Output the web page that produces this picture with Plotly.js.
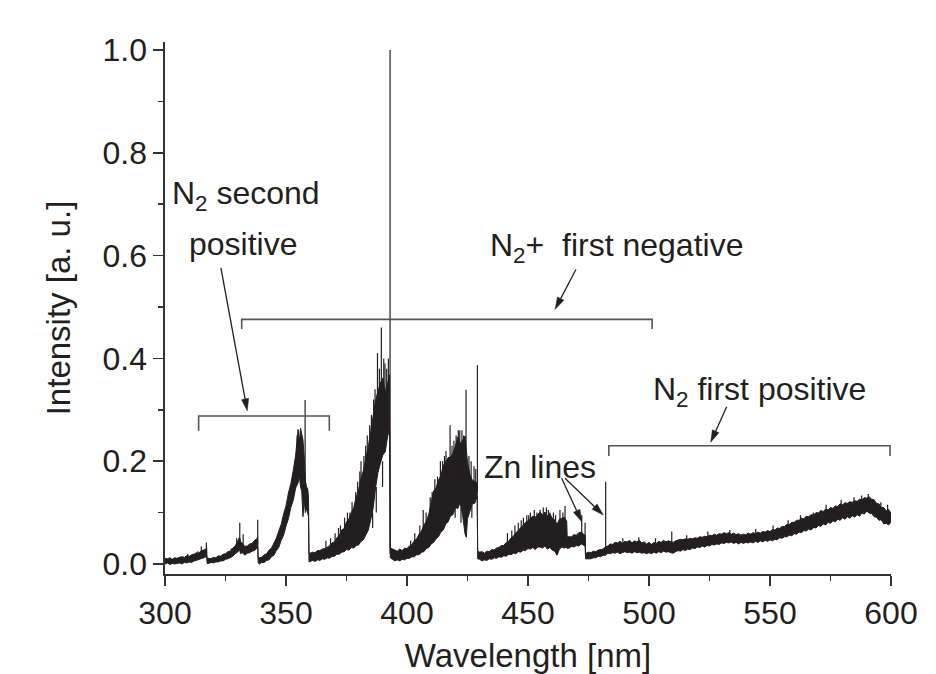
<!DOCTYPE html>
<html>
<head>
<meta charset="utf-8">
<script src="https://cdn.plot.ly/plotly-3.0.1.min.js"></script>
<style>
html,body{margin:0;padding:0;background:#fff;}
#chart{width:936px;height:674px;}
</style>
</head>
<body>
<div id="chart"></div>
<script>
// ---- spectrum: wavelength [nm], lower and upper edge of the dense noisy trace [a.u.]
const wavelength = [
 300,301,302,303,304,305,306,307,308,309,310,311,312,313,314,315,316,317,317.2,317.4,
 318,319,320,321,322,323,324,325,326,327,328,329,330,330.8,331.2,332,333,334,335,336,337,338,338.3,338.5,
 339,340,341,342,343,344,345,346,347,348,349,350,351,352,353,354,355,355.5,356,356.5,357,357.5,358,358.5,359,359.3,359.5,
 360,361,362,363,364,365,366,367,368,369,370,371,372,373,374,375,376,377,378,379,380,381,382,383,384,385,386,387,388,389,390,391,392,392.8,393.1,
 394,395,396,397,398,399,400,401,402,403,404,405,406,407,408,409,410,411,412,413,414,415,416,417,418,419,420,421,422,423,424,424.5,425,426,427,428,429,429.2,
 430,431,432,433,434,435,436,437,438,439,440,441,442,443,444,445,446,447,448,449,450,451,452,453,454,455,456,457,458,459,460,461,462,463,464,465,466,466.2,
 467,468,469,470,471,472,473,473.6,473.8,
 474,475,476,477,478,479,480,481,482,483,484,485,486,487,488,489,490,491,492,493,494,495,496,497,498,499,
 500,501,502,503,504,505,506,507,508,509,510,511,512,513,514,515,516,517,518,519,520,521,522,523,524,525,526,527,528,529,
 530,531,532,533,534,535,536,537,538,539,540,541,542,543,544,545,546,547,548,549,550,551,552,553,554,555,556,557,558,559,
 560,561,562,563,564,565,566,567,568,569,570,571,572,573,574,575,576,577,578,579,580,581,582,583,584,585,586,587,588,589,
 590,591,592,593,594,595,596,597,598,599,600
];
const lowerEdge = [
 .000,.002,-.001,.001,.000,.001,.002,.000,.003,.002,.004,.003,.006,.007,.009,.010,.012,.014,.016,.001,
 .001,.003,.002,.004,.004,.006,.006,.009,.010,.013,.015,.020,.023,.028,.020,.022,.017,.021,.022,.025,.026,.031,.033,.002,
 .000,.003,.003,.007,.008,.014,.017,.026,.032,.046,.056,.074,.088,.110,.124,.148,.158,.172,.150,.142,.092,.124,.100,.108,.098,.092,.004,
 .005,.007,.005,.008,.007,.010,.009,.012,.011,.015,.015,.019,.019,.023,.024,.028,.027,.032,.031,.036,.037,.044,.047,.058,.066,.086,.108,.148,.178,.196,.212,.218,.248,.262,.012,
 .009,.006,.008,.006,.009,.008,.011,.011,.014,.014,.018,.018,.023,.024,.030,.032,.039,.042,.049,.053,.062,.066,.078,.082,.094,.096,.110,.108,.120,.094,.058,.052,.088,.102,.117,.118,.132,.010,
 .009,.006,.008,.007,.010,.009,.012,.011,.014,.013,.016,.015,.019,.018,.021,.020,.024,.023,.027,.026,.030,.029,.032,.028,.033,.033,.031,.035,.029,.032,.027,.025,.017,.029,.033,.031,.033,.030,
 .031,.034,.033,.036,.035,.039,.036,.035,.010,
 .010,.011,.010,.012,.012,.015,.014,.017,.017,.021,.020,.022,.021,.023,.020,.022,.024,.022,.023,.021,.024,.022,.023,.021,.022,.020,
 .022,.020,.023,.021,.024,.022,.025,.023,.024,.022,.021,.024,.026,.025,.028,.026,.029,.028,.031,.030,.033,.032,.035,.033,.036,.035,.038,.037,.039,.038,
 .041,.040,.042,.041,.043,.040,.042,.039,.042,.040,.042,.041,.043,.041,.044,.042,.045,.043,.046,.044,.047,.045,.048,.047,.051,.050,.053,.053,.056,.055,
 .059,.058,.062,.061,.065,.064,.068,.066,.071,.070,.075,.073,.078,.076,.081,.079,.084,.082,.087,.085,.090,.087,.092,.089,.094,.091,.096,.093,.099,.097,
 .103,.099,.098,.092,.091,.085,.086,.078,.079,.076,.081
];
const upperEdge = [
 .011,.010,.012,.009,.012,.011,.013,.014,.013,.016,.015,.018,.019,.022,.021,.026,.027,.029,.032,.012,
 .011,.010,.013,.012,.016,.015,.019,.020,.024,.025,.031,.035,.044,.052,.044,.040,.034,.035,.039,.040,.046,.049,.053,.013,
 .012,.013,.018,.020,.027,.031,.041,.050,.064,.077,.097,.113,.138,.156,.182,.212,.262,.238,.264,.248,.242,.210,.162,.150,.146,.128,.021,
 .021,.023,.022,.026,.026,.029,.030,.033,.035,.041,.043,.051,.055,.066,.069,.082,.088,.100,.110,.130,.144,.167,.182,.207,.228,.258,.286,.318,.336,.352,.362,.334,.352,.368,.031,
 .029,.028,.025,.029,.026,.031,.030,.035,.038,.045,.049,.058,.064,.076,.083,.097,.123,.142,.148,.163,.172,.192,.198,.207,.208,.216,.229,.247,.234,.241,.249,.222,.198,.174,.163,.161,.157,.026,
 .023,.024,.021,.025,.024,.028,.027,.031,.032,.036,.036,.042,.044,.051,.054,.061,.065,.071,.075,.081,.084,.089,.093,.091,.096,.101,.095,.101,.093,.098,.089,.086,.077,.087,.089,.091,.083,.053,
 .053,.053,.057,.056,.061,.062,.058,.056,.022,
 .021,.023,.022,.025,.024,.027,.028,.029,.033,.035,.039,.038,.042,.041,.044,.040,.044,.043,.046,.041,.045,.043,.046,.041,.043,.039,
 .042,.038,.042,.040,.044,.042,.046,.043,.045,.044,.042,.045,.046,.048,.047,.049,.048,.050,.049,.051,.050,.053,.052,.054,.053,.056,.055,.058,.056,.059,
 .058,.061,.059,.061,.058,.060,.057,.059,.056,.058,.057,.060,.058,.061,.059,.062,.060,.063,.062,.065,.063,.067,.066,.070,.069,.073,.073,.077,.077,.081,
 .081,.085,.085,.089,.088,.093,.092,.096,.095,.100,.099,.104,.102,.107,.105,.110,.108,.113,.112,.117,.115,.119,.118,.121,.120,.123,.122,.126,.125,.129,
 .128,.131,.126,.125,.118,.117,.110,.110,.103,.106,.099
];
// ---- narrow emission lines / noise spikes standing out of the band
const lineWl = [
 309.4,313.6,315.0,317.1,327.4,329.6,330.9,332.3,338.3,354.6,357.9,
 366.5,368.4,370.3,371.7,372.5,374.2,375.4,376.4,377.3,378.8,379.6,380.5,381.0,382.2,382.9,383.6,384.6,385.3,385.8,386.2,386.8,387.3,387.8,388.6,389.4,389.9,390.4,390.9,391.6,392.3,393.0,
 401.5,403.2,405.3,406.7,407.9,409.6,410.4,411.5,412.6,413.8,414.7,415.5,416.1,417.8,418.6,419.4,419.9,420.3,421.2,421.8,422.3,422.7,423.4,424.4,425.6,426.5,426.8,427.7,428.4,429.1,
 441.5,443.3,444.6,446.0,447.2,448.1,449.5,450.3,451.0,452.6,453.7,455.0,456.3,457.6,458.4,459.0,460.5,461.4,463.2,464.4,465.3,
 472.2,473.6,482.1,489.2,495.8,502.7,509.4,515.6,524.3,533.4,544.1,551.3,557.5,562.6,567.9,573.2,579.4,584.7,587.9,590.6,595.8,598.6
];
const lineBase = [
 .005,.010,.020,.020,.015,.025,.030,.025,.040,.200,.120,
 .020,.020,.020,.030,.030,.040,.040,.040,.050,.060,.070,.080,.100,.100,.100,.120,.150,.150,.100,.200,.200,.150,.250,.250,.300,.200,.280,.250,.250,.280,.020,
 .015,.020,.030,.040,.040,.060,.060,.080,.080,.100,.100,.100,.120,.140,.120,.120,.120,.150,.130,.150,.120,.130,.120,.100,.120,.130,.120,.130,.130,.140,
 .030,.030,.035,.040,.040,.050,.045,.050,.050,.050,.050,.050,.050,.050,.050,.050,.040,.040,.050,.050,.050,
 .040,.035,.025,.030,.030,.030,.035,.035,.040,.050,.050,.055,.060,.070,.070,.090,.100,.100,.110,.100,.100,.090
];
const lineTop = [
 .020,.025,.034,.042,.030,.050,.080,.058,.086,.250,.319,
 .045,.050,.060,.070,.075,.090,.100,.100,.120,.140,.160,.180,.200,.210,.230,.250,.270,.290,.070,.320,.340,.100,.410,.380,.460,.150,.400,.390,.380,.400,1.000,
 .045,.060,.075,.105,.100,.130,.140,.165,.170,.200,.200,.210,.220,.270,.230,.240,.090,.250,.260,.260,.080,.260,.250,.339,.210,.200,.090,.190,.185,.387,
 .060,.065,.075,.080,.085,.090,.095,.095,.100,.105,.100,.105,.110,.110,.105,.100,.100,.095,.105,.100,.113,
 .095,.080,.160,.050,.052,.050,.063,.056,.063,.066,.068,.075,.085,.095,.100,.115,.125,.130,.133,.136,.120,.115
];

// ---- axis ticks
const xTicks = [300,350,400,450,500,550,600];
const xMinor = [325,375,425,475,525,575];
const yTicks = [0,0.2,0.4,0.6,0.8,1.0];
const yTickLabels = ["0.0","0.2","0.4","0.6","0.8","1.0"];
const yMinor = [0.1,0.3,0.5,0.7,0.9];

const INK = '#231f20';
const FONT = 'Liberation Sans, Arial, Helvetica, sans-serif';
const X0 = 300, X1 = 600, Y0 = -0.0195, Y1 = 1.0156;
const ML = 165, MR = 45, MT = 42, MB = 100, W = 936, H = 674;
const pxX = (W - ML - MR) / (X1 - X0);   // pixels per nm
const pxY = (H - MT - MB) / (Y1 - Y0);   // pixels per intensity unit

// spike segments built from the line arrays
const sx = [], sy = [];
lineWl.forEach((w,i)=>{ sx.push(w,w,null); sy.push(lineBase[i],lineTop[i],null); });

const traces = [
  {x: wavelength, y: lowerEdge, type:'scatter', mode:'lines',
   line:{color:INK, width:1}, hoverinfo:'skip', showlegend:false},
  {x: wavelength, y: upperEdge, type:'scatter', mode:'lines', fill:'tonexty',
   fillcolor:INK, line:{color:INK, width:1}, hoverinfo:'skip', showlegend:false},
  {x: sx, y: sy, type:'scatter', mode:'lines',
   line:{color:INK, width:1.2}, hoverinfo:'skip', showlegend:false}
];

const bracket = (x1,x2,y,yEnd)=>({type:'path', xref:'x', yref:'y',
  path:`M ${x1},${yEnd} L ${x1},${y} L ${x2},${y} L ${x2},${yEnd}`,
  line:{color:'#555', width:1.6}});

// arrow from tail (tx,ty) to head (hx,hy): a line plus a filled narrow head
function arrowShapes(hx,hy,tx,ty){
  const dx = (hx-tx)*pxX, dy = -(hy-ty)*pxY;
  const len = Math.hypot(dx,dy), ux = dx/len, uy = dy/len;
  const L = 12, Wd = 3.6;
  const bx = -ux*L, by = -uy*L;            // head base offset (px)
  const nx = -uy*Wd, ny = ux*Wd;           // normal offset (px)
  const toX = p => p/pxX, toY = p => -p/pxY;
  const baseX = hx + toX(bx), baseY = hy + toY(by);
  const lx = hx + toX(bx+nx), ly = hy + toY(by+ny);
  const rx = hx + toX(bx-nx), ry = hy + toY(by-ny);
  return [
    {type:'line', xref:'x', yref:'y', x0:tx, y0:ty, x1:baseX, y1:baseY, line:{color:INK, width:1.3}},
    {type:'path', xref:'x', yref:'y', path:`M ${hx},${hy} L ${lx},${ly} L ${rx},${ry} Z`,
     fillcolor:INK, line:{color:INK, width:0.5}}
  ];
}

const label = (text,x,y)=>({x:x, y:y, xref:'x', yref:'y', text:text, showarrow:false,
  xanchor:'center', yanchor:'middle', font:{family:FONT, size:32, color:INK}});

const layout = {
  width:W, height:H,
  margin:{l:ML, r:MR, t:MT, b:MB, pad:0},
  paper_bgcolor:'#fff', plot_bgcolor:'#fff',
  font:{family:FONT, color:INK},
  xaxis:{
    range:[X0,X1], autorange:false, tickmode:'array', tickvals:xTicks,
    ticks:'outside', ticklen:10, tickwidth:1.5, tickcolor:'#333',
    minor:{tickmode:'array', tickvals:xMinor, ticks:'outside', ticklen:5, tickwidth:1.5, tickcolor:'#333'},
    showline:true, linecolor:'#333', linewidth:1.6, showgrid:false, zeroline:false,
    tickfont:{family:FONT, size:32, color:INK}, automargin:false,
    title:{text:'Wavelength [nm]', font:{family:FONT, size:33, color:INK}, standoff:27}
  },
  yaxis:{
    range:[Y0,Y1], autorange:false, tickmode:'array', tickvals:yTicks, ticktext:yTickLabels,
    ticks:'outside', ticklen:10, tickwidth:1.5, tickcolor:'#333',
    minor:{tickmode:'array', tickvals:yMinor, ticks:'outside', ticklen:5, tickwidth:1.5, tickcolor:'#333'},
    showline:true, linecolor:'#333', linewidth:1.6, showgrid:false, zeroline:false,
    tickfont:{family:FONT, size:32, color:INK}, automargin:false,
    title:{text:'Intensity [a. u.]', font:{family:FONT, size:33, color:INK}, standoff:22}
  },
  shapes:[
    bracket(313.9,367.9,0.288,0.259),
    bracket(331.7,501.3,0.476,0.457),
    bracket(483.4,599.6,0.230,0.210),
    ...arrowShapes(334.0,0.298,323.1,0.576),
    ...arrowShapes(461.2,0.4955,469.8,0.573),
    ...arrowShapes(525.5,0.237,532.1,0.306),
    ...arrowShapes(472.2,0.0823,463.9,0.1667),
    ...arrowShapes(481.1,0.0953,465.3,0.1667)
  ],
  annotations:[
    label('N<sub>2</sub> second',333.4,0.716),
    label('positive',332.4,0.622),
    label('N<sub>2</sub>+\u00a0\u00a0first negative',486.4,0.616),
    label('N<sub>2</sub> first positive',545.7,0.336),
    label('Zn lines',455.0,0.188)
  ]
};

Plotly.newPlot('chart', traces, layout, {displayModeBar:false, staticPlot:true});
</script>
</body>
</html>
